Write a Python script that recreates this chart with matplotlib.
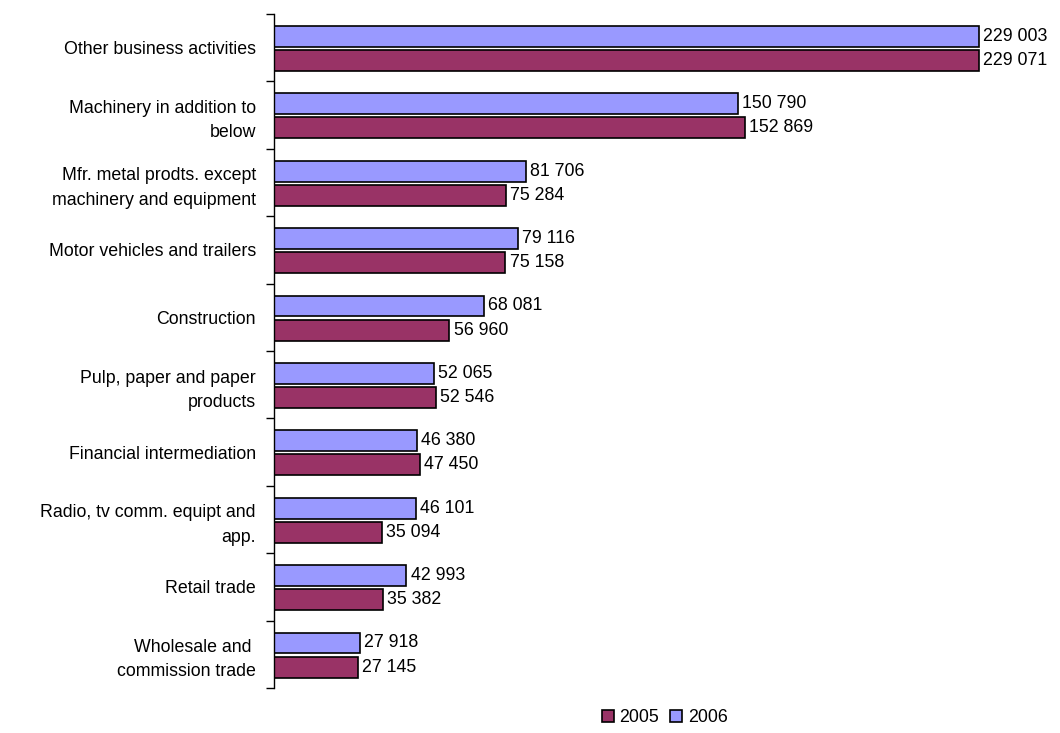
import matplotlib.pyplot as plt
import numpy as np

plt.rcParams['font.family'] = ['Liberation Sans', 'DejaVu Sans']

categories = ['Other business activities',
              'Machinery in addition to\nbelow',
              'Mfr. metal prodts. except\nmachinery and equipment',
              'Motor vehicles and trailers',
              'Construction',
              'Pulp, paper and paper\nproducts',
              'Financial intermediation',
              'Radio, tv comm. equipt and\napp.',
              'Retail trade',
              'Wholesale and \ncommission trade']
v2006 = [229003, 150790, 81706, 79116, 68081, 52065, 46380, 46101, 42993, 27918]
v2005 = [229071, 152869, 75284, 75158, 56960, 52546, 47450, 35094, 35382, 27145]

fmt = lambda v: f'{v:,}'.replace(',', ' ')
fs = 12.8

fig = plt.figure(figsize=(10.6, 7.33), dpi=100)
ax = fig.add_axes([0.2585, 0.0614, 0.7226, 0.9195])

y = np.arange(len(categories))
h = 0.31
b06 = ax.barh(y - 0.168, v2006, height=h, color='#9999FF', edgecolor='black',
              linewidth=1.2, label='2006')
b05 = ax.barh(y + 0.19, v2005, height=h, color='#993366', edgecolor='black',
              linewidth=1.2, label='2005')

for bars, vals in [(b06, v2006), (b05, v2005)]:
    for bar, v in zip(bars, vals):
        ax.annotate(fmt(v), (v, bar.get_y() + bar.get_height()/2),
                    xytext=(3, 0), textcoords='offset points',
                    va='center', ha='left', fontsize=fs)

ax.set_xlim(0, 248800)
ax.set_ylim(len(categories) - 0.5, -0.5)
ax.set_xticks([])
ax.set_yticks(np.arange(len(categories) + 1) - 0.5)
ax.set_yticklabels([])
ax.set_yticks(y, minor=True)
ax.set_yticklabels(categories, minor=True, fontsize=fs)
ax.tick_params(axis='y', which='major', direction='out', length=6, width=1)
ax.tick_params(axis='y', which='minor', length=0, pad=13)
for s in ['top', 'right', 'bottom']:
    ax.spines[s].set_visible(False)
ax.spines['left'].set_linewidth(1)
for t in ax.get_yticklabels(minor=True):
    t.set_horizontalalignment('right')
    t.set_multialignment('right')
    t.set_linespacing(1.55)

handles = [b05, b06]
fig.legend(handles, ['2005', '2006'], loc='center', bbox_to_anchor=(0.627, 0.021),
           ncol=2, frameon=False, fontsize=fs, handlelength=0.7,
           handleheight=0.7, handletextpad=0.3, columnspacing=0.6)

fig.savefig('out.png', dpi=100)
